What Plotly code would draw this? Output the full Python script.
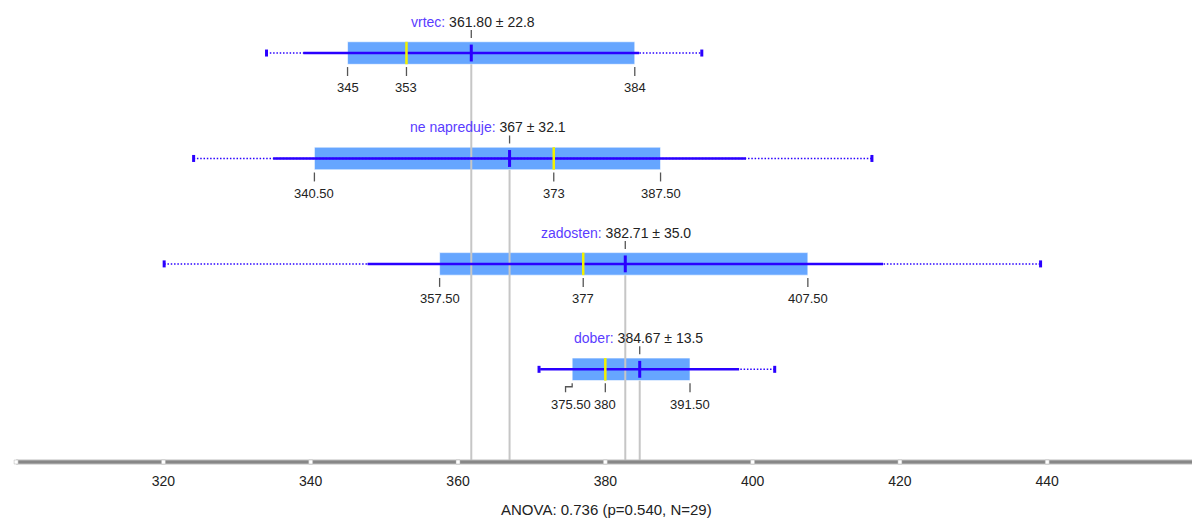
import plotly.graph_objects as go

# ---------------- data ----------------
groups = ["vrtec", "ne napreduje", "zadosten", "dober"]
means = [361.80, 367.0, 382.71, 384.67]
stds = [22.8, 32.1, 35.0, 13.5]
q1 = [345.0, 340.5, 357.5, 375.5]
medians = [353.0, 373.0, 377.0, 380.0]
q3 = [384.0, 387.5, 407.5, 391.5]
mins = [334.0, 324.1, 320.1, 371.0]
maxs = [393.1, 416.2, 439.1, 403.0]
tick_values = [300, 320, 340, 360, 380, 400, 420, 440, 460]
labelled_ticks = [320, 340, 360, 380, 400, 420, 440]
anova_text = "ANOVA: 0.736 (p=0.540, N=29)"

# ---------------- style ----------------
BOX = "#66a6ff"
BLUE = "#2a00ff"
NAME = "#5a3cff"
YELLOW = "#f2f200"
GRAY = "#c6c6c6"
DARK = "#555555"
TXT = "#222222"
FONT = "Liberation Sans, Arial, Helvetica, sans-serif"
header_shift = [2, -22, -9, -1.5]   # px, label placement


def fmt(v):
    return str(int(round(v))) if abs(v - round(v)) < 1e-9 else f"{v:.2f}"


n = len(groups)
rows = [n - 1 - i for i in range(n)]
HALF = 0.107
AXIS_Y = -0.879

fig = go.Figure()

# boxes (q1..q3)
fig.add_trace(go.Bar(
    orientation="h", y=rows, x=[b - a for a, b in zip(q1, q3)], base=q1,
    width=2 * HALF, marker=dict(color=BOX, line=dict(color="rgba(255,255,255,0.6)", width=1)),
    hoverinfo="skip", showlegend=False))


def seg_trace(xs_pairs, ys_pairs, color, width, dash="solid"):
    X, Y = [], []
    for (xa, xb), (ya, yb) in zip(xs_pairs, ys_pairs):
        X += [xa, xb, None]
        Y += [ya, yb, None]
    fig.add_trace(go.Scatter(x=X, y=Y, mode="lines", line=dict(color=color, width=width, dash=dash),
                             hoverinfo="skip", showlegend=False))


# gray mean lines down to axis
seg_trace([(m, m) for m in means], [(r - HALF, AXIS_Y) for r in rows], GRAY, 2)
# dark tick above mean
seg_trace([(m, m) for m in means], [(r + 0.142, r + 0.218) for r in rows], DARK, 1.3)
# dark ticks below for q1 (except bent one), median, q3
below_pairs, below_y = [], []
for i, r in enumerate(rows):
    for v, idx in ((q1[i], 0), (medians[i], 1), (q3[i], 2)):
        if groups[i] == "dober" and idx == 0:
            continue
        below_pairs.append((v, v))
        below_y.append((r - 0.133, r - 0.218))
seg_trace(below_pairs, below_y, DARK, 1.3)
# bent tick for dober q1
di = groups.index("dober")
dr = rows[di]
fig.add_trace(go.Scatter(
    x=[q1[di], q1[di], q1[di] - 0.9, q1[di] - 0.9],
    y=[dr - 0.133, dr - 0.165, dr - 0.165, dr - 0.218],
    mode="lines", line=dict(color=DARK, width=1.3), hoverinfo="skip", showlegend=False))

# dotted min..max
seg_trace([(a, b) for a, b in zip(mins, maxs)], [(r, r) for r in rows], BLUE, 1.5, dash="1.5px,1.8px")
# solid mean ± std
seg_trace([(m - s, m + s) for m, s in zip(means, stds)], [(r, r) for r in rows], BLUE, 2.5)
# median (yellow)
seg_trace([(v, v) for v in medians], [(r - HALF, r + HALF) for r in rows], YELLOW, 2.5)
# mean tick
seg_trace([(m, m) for m in means], [(r - 0.08, r + 0.08) for r in rows], BLUE, 3)
# end caps
fig.add_trace(go.Scatter(
    x=mins + maxs, y=rows + rows, mode="markers",
    marker=dict(symbol="line-ns", size=5, line=dict(color=BLUE, width=3)),
    hoverinfo="skip", showlegend=False))

# axis line (two strokes) + white tick marks
ax_x = [min(tick_values), max(tick_values)]
fig.add_trace(go.Scatter(x=ax_x, y=[AXIS_Y, AXIS_Y], mode="lines",
                         line=dict(color="#bdbdbd", width=5), hoverinfo="skip", showlegend=False))
fig.add_trace(go.Scatter(x=ax_x, y=[AXIS_Y, AXIS_Y], mode="lines",
                         line=dict(color="#878787", width=3), hoverinfo="skip", showlegend=False))
fig.add_trace(go.Scatter(
    x=tick_values, y=[AXIS_Y] * len(tick_values), mode="markers",
    marker=dict(symbol="square", size=4, color="white", line=dict(color="#b0b0b0", width=0.5)),
    hoverinfo="skip", showlegend=False))

# annotations
for i, r in enumerate(rows):
    fig.add_annotation(
        x=means[i], y=r + 0.297, xref="x", yref="y", showarrow=False, xshift=header_shift[i],
        text=f"<span style='color:{NAME}'>{groups[i]}:</span> {fmt(means[i])} ± {stds[i]:.1f}",
        font=dict(family=FONT, size=14, color=TXT), xanchor="center", yanchor="middle")
    for v, sh in ((q1[i], -1.5 if groups[i] == "dober" else 0), (medians[i], 0), (q3[i], 0)):
        fig.add_annotation(
            x=v, y=r - 0.329, xref="x", yref="y", showarrow=False, xshift=sh,
            text=fmt(v), font=dict(family=FONT, size=13, color=TXT),
            xanchor="center", yanchor="middle")

fig.add_annotation(x=0.5084, y=-0.0923, xref="paper", yref="paper", showarrow=False,
                   text=anova_text, font=dict(family=FONT, size=15, color=TXT),
                   xanchor="center", yanchor="middle")

fig.update_layout(
    width=1192, height=518,
    margin=dict(l=0, r=0, t=0, b=52),
    paper_bgcolor="white", plot_bgcolor="white",
    barmode="overlay", hovermode=False, showlegend=False,
    xaxis=dict(range=[297.81, 459.66], showgrid=False, zeroline=False, showline=False,
               tickmode="array", tickvals=labelled_ticks, ticktext=[str(t) for t in labelled_ticks],
               ticks="outside", ticklen=2, tickcolor="rgba(0,0,0,0)",
               tickfont=dict(family=FONT, size=14, color=TXT), fixedrange=True),
    yaxis=dict(range=[AXIS_Y - 0.0379, 3.503], visible=False, fixedrange=True),
)

fig.write_html("out.html", config={"displayModeBar": False},
               post_script="document.body.style.margin='0';document.body.style.overflow='hidden';")
